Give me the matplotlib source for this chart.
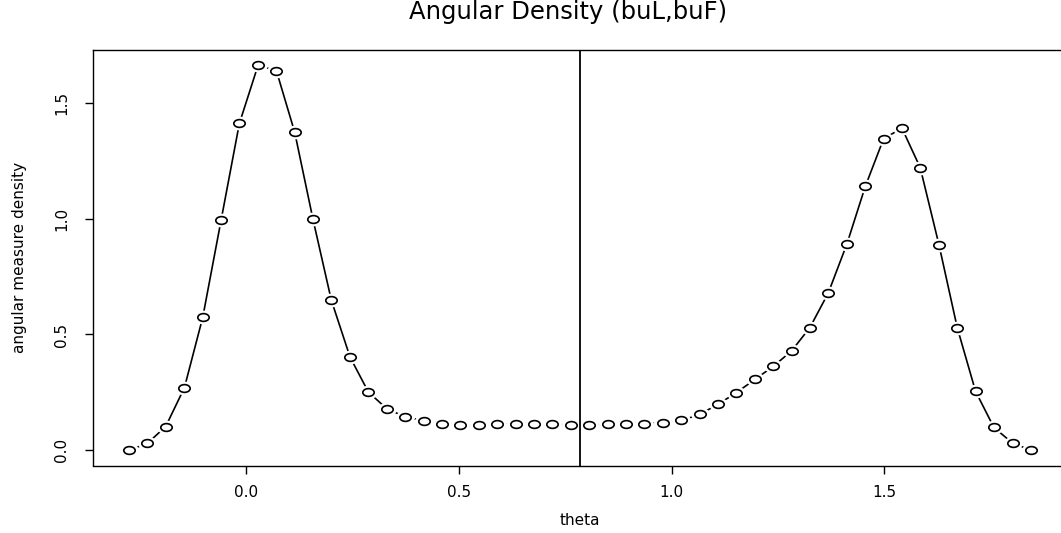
import numpy as np
import matplotlib
matplotlib.use('Agg')
import matplotlib.pyplot as plt
from matplotlib.path import Path
from matplotlib.transforms import Affine2D

# ── Data ──
theta = [-0.274, -0.231, -0.188, -0.144, -0.101, -0.058, -0.015, 0.029, 0.072, 0.115,
         0.158, 0.201, 0.245, 0.288, 0.331, 0.374, 0.418, 0.461, 0.504, 0.547,
         0.590, 0.634, 0.677, 0.720, 0.763, 0.807, 0.850, 0.893, 0.936, 0.979,
         1.023, 1.066, 1.109, 1.152, 1.196, 1.239, 1.282, 1.325, 1.368, 1.412,
         1.455, 1.498, 1.541, 1.584, 1.628, 1.671, 1.714, 1.757, 1.801, 1.844]
density = [0.000, 0.029, 0.102, 0.270, 0.574, 0.993, 1.412, 1.664, 1.640, 1.374,
           0.997, 0.648, 0.402, 0.251, 0.179, 0.144, 0.127, 0.114, 0.107, 0.107,
           0.111, 0.115, 0.115, 0.112, 0.108, 0.108, 0.111, 0.115, 0.115, 0.118,
           0.128, 0.154, 0.198, 0.248, 0.306, 0.362, 0.429, 0.530, 0.679, 0.892,
           1.140, 1.346, 1.392, 1.221, 0.888, 0.529, 0.254, 0.098, 0.030, 0.000]
split_at = np.pi / 4
xticks = [0.0, 0.5, 1.0, 1.5]
yticks = [0.0, 0.5, 1.0, 1.5]

plt.rcParams.update({
    'font.family': 'DejaVu Sans',
    'font.size': 11,
})

# R draws the open circles slightly squashed in this export
ellipse = Path.unit_circle().transformed(Affine2D().scale(1, 0.68))
halo = Path.unit_circle().transformed(Affine2D().scale(1, 0.72))

fig = plt.figure(figsize=(10.61, 5.33), dpi=100)
ax = fig.add_axes([93 / 1061, 67.5 / 533, 974 / 1061, 415.7 / 533])

# type="b": line, white gaps round each point, then hollow circles
ax.plot(theta, density, color='black', lw=1.2, zorder=1)
ax.plot(theta, density, ls='none', marker=halo, ms=13.7,
        mfc='white', mec='none', zorder=2)
ax.axvline(split_at, color='black', lw=1.3, zorder=2.5)
ax.plot(theta, density, ls='none', marker=ellipse, ms=8.2,
        mfc='none', mec='black', mew=1.2, zorder=3)

ax.margins(x=0.04, y=0.04)
ax.set_xticks(xticks)
ax.set_xticklabels([f'{v:.1f}' for v in xticks])
ax.set_yticks(yticks)
ax.set_yticklabels([f'{v:.1f}' for v in yticks])
ax.tick_params(axis='both', direction='out', length=5.5, width=1, colors='black')
ax.tick_params(axis='x', pad=8.5)
ax.tick_params(axis='y', pad=11.5, labelrotation=90)
for lab in ax.get_yticklabels():
    lab.set_va('center')

for sp in ax.spines.values():
    sp.set_color('black')
    sp.set_linewidth(1)

ax.set_xlabel('theta')
ax.xaxis.set_label_coords(0.5, -0.1335)
ax.xaxis.label.set_va('center')
ax.set_ylabel('angular measure density')
ax.yaxis.set_label_coords(-0.075, 0.5)
ax.yaxis.label.set_va('center')

fig.text(568 / 1061, 1 - 11.5 / 533, 'Angular Density (buL,buF)',
         ha='center', va='center', fontsize=17.5)

fig.savefig('out.png', dpi=100, facecolor='white')
